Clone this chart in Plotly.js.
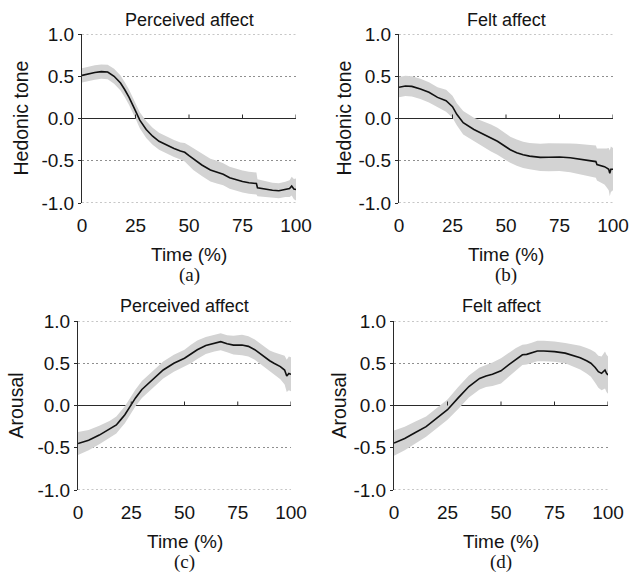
<!DOCTYPE html>
<html>
<head>
<meta charset="utf-8">
<script src="https://cdn.plot.ly/plotly-3.0.1.min.js"></script>
<style>
  html, body { margin: 0; padding: 0; background: #fff; }
  #chart { width: 631px; height: 573px; }
</style>
</head>
<body>
<div id="chart"></div>
<script>
// ---------- data ----------
const panelTitles = ["Perceived affect", "Felt affect", "Perceived affect", "Felt affect"];
const panelLabels = ["(a)", "(b)", "(c)", "(d)"];
const yTitles = ["Hedonic tone", "Hedonic tone", "Arousal", "Arousal"];
const xTitle = "Time (%)";
const xTickVals = [0, 25, 50, 75, 100];
const yTickVals = [-1, -0.5, 0, 0.5, 1];
const yTickText = ["-1.0", "-0.5", "0.0", "0.5", "1.0"];

// (a) Perceived affect – hedonic tone
const timeA = [0, 3, 6, 9, 12, 15, 18, 20, 22, 25, 27, 30, 33, 36, 40, 43, 46, 48, 50, 52, 56, 60, 63, 66, 69, 72, 75, 78, 81.5, 82, 85, 89, 92, 95, 97, 98, 99, 100];
const meanA = [0.51, 0.53, 0.545, 0.555, 0.55, 0.50, 0.42, 0.34, 0.25, 0.09, -0.02, -0.13, -0.21, -0.27, -0.32, -0.355, -0.385, -0.40, -0.44, -0.48, -0.55, -0.61, -0.635, -0.66, -0.70, -0.725, -0.745, -0.76, -0.77, -0.82, -0.835, -0.85, -0.855, -0.84, -0.83, -0.80, -0.835, -0.84];
const sdA = [0.085, 0.085, 0.085, 0.085, 0.085, 0.09, 0.09, 0.09, 0.09, 0.09, 0.095, 0.1, 0.1, 0.1, 0.1, 0.1, 0.1, 0.11, 0.12, 0.13, 0.13, 0.135, 0.135, 0.13, 0.13, 0.13, 0.13, 0.13, 0.13, 0.1, 0.095, 0.09, 0.09, 0.09, 0.1, 0.11, 0.12, 0.13];

// (b) Felt affect – hedonic tone
const timeB = [0, 3, 6, 10, 14, 18, 22, 25, 27, 30, 35, 40, 43, 46, 49, 52, 55, 58, 61, 64, 66, 70, 75, 80, 83, 86, 89, 92, 92.5, 94, 96, 97, 98, 98.5, 99, 100];
const meanB = [0.37, 0.385, 0.38, 0.35, 0.31, 0.25, 0.21, 0.14, 0.05, -0.05, -0.13, -0.19, -0.23, -0.27, -0.32, -0.37, -0.405, -0.43, -0.445, -0.455, -0.46, -0.458, -0.455, -0.465, -0.475, -0.485, -0.50, -0.51, -0.545, -0.555, -0.57, -0.585, -0.60, -0.65, -0.60, -0.60];
const sdB = [0.12, 0.12, 0.12, 0.12, 0.12, 0.12, 0.13, 0.13, 0.13, 0.14, 0.14, 0.15, 0.16, 0.16, 0.16, 0.155, 0.155, 0.155, 0.155, 0.16, 0.16, 0.165, 0.165, 0.17, 0.175, 0.18, 0.185, 0.19, 0.19, 0.2, 0.21, 0.23, 0.25, 0.27, 0.27, 0.25];

// (c) Perceived affect – arousal
const timeC = [0, 5, 10, 15, 18, 20, 22, 25, 27, 30, 35, 40, 45, 50, 53, 56, 60, 64, 67, 70, 73, 77, 80, 83, 87, 90, 92, 95, 97, 98, 99, 100];
const meanC = [-0.45, -0.41, -0.35, -0.28, -0.23, -0.17, -0.11, 0.01, 0.09, 0.19, 0.30, 0.42, 0.50, 0.56, 0.61, 0.66, 0.71, 0.74, 0.755, 0.73, 0.715, 0.716, 0.70, 0.66, 0.58, 0.53, 0.50, 0.46, 0.42, 0.35, 0.38, 0.37];
const sdC = [0.135, 0.12, 0.11, 0.1, 0.1, 0.1, 0.1, 0.1, 0.1, 0.1, 0.1, 0.1, 0.1, 0.1, 0.11, 0.11, 0.1, 0.1, 0.1, 0.1, 0.11, 0.12, 0.12, 0.12, 0.12, 0.12, 0.13, 0.15, 0.17, 0.19, 0.2, 0.2];

// (d) Felt affect – arousal
const timeD = [0, 5, 10, 15, 20, 25, 30, 35, 40, 43, 46, 50, 54, 57, 60, 62, 64, 67, 70, 75, 80, 84, 87, 90, 92, 94, 95.5, 97, 98, 98.6, 99.3, 100];
const meanD = [-0.445, -0.39, -0.32, -0.25, -0.15, -0.05, 0.09, 0.225, 0.32, 0.35, 0.37, 0.41, 0.49, 0.55, 0.60, 0.605, 0.62, 0.645, 0.645, 0.637, 0.62, 0.59, 0.566, 0.53, 0.50, 0.45, 0.40, 0.38, 0.40, 0.42, 0.38, 0.36];
const sdD = [0.15, 0.14, 0.13, 0.12, 0.12, 0.12, 0.13, 0.13, 0.13, 0.13, 0.14, 0.15, 0.14, 0.13, 0.12, 0.12, 0.12, 0.12, 0.12, 0.12, 0.12, 0.13, 0.14, 0.15, 0.16, 0.18, 0.19, 0.2, 0.21, 0.22, 0.22, 0.22];

const series = [
  { t: timeA, m: meanA, s: sdA },
  { t: timeB, m: meanB, s: sdB },
  { t: timeC, m: meanC, s: sdC },
  { t: timeD, m: meanD, s: sdD }
];

// ---------- layout geometry (pixels) ----------
const W = 631, H = 573;
const boxes = [
  { l: 82,  r: 296, t: 34,  b: 203, yt: 20,  ytx: 62 },
  { l: 399, r: 613, t: 34,  b: 203, yt: 20,  ytx: 56 },
  { l: 78,  r: 291, t: 321, b: 490, yt: 306, ytx: 63 },
  { l: 394, r: 608, t: 321, b: 490, yt: 306, ytx: 56 }
];
const FONT = "Liberation Sans, Arial, Helvetica, sans-serif";
const SERIF = "Liberation Serif, Times New Roman, serif";
const TXT = "#141414";
const AX = "#2a2a2a";
const BAND = "rgb(211,211,211)";
const GRID = "#8f8f8f";
const GRIDDASH = "2px,2.5px";

const px2x = p => p / W;
const px2y = p => 1 - p / H;

const traces = [];
const layout = {
  width: W, height: H,
  margin: { l: 0, r: 0, t: 0, b: 0, pad: 0 },
  paper_bgcolor: "#fff", plot_bgcolor: "rgba(0,0,0,0)",
  showlegend: false,
  font: { family: FONT, size: 19, color: TXT },
  annotations: [], shapes: []
};

series.forEach((d, i) => {
  const n = i === 0 ? "" : String(i + 1);
  const xa = "x" + n, ya = "y" + n;
  const lower = d.m.map((v, k) => v - d.s[k]);
  const upper = d.m.map((v, k) => v + d.s[k]);
  traces.push({ x: d.t, y: lower, xaxis: xa, yaxis: ya, mode: "lines",
    line: { width: 0, color: BAND }, hoverinfo: "skip" });
  traces.push({ x: d.t, y: upper, xaxis: xa, yaxis: ya, mode: "lines", fill: "tonexty",
    fillcolor: BAND, line: { width: 0, color: BAND }, hoverinfo: "skip" });
  traces.push({ x: d.t, y: d.m, xaxis: xa, yaxis: ya, mode: "lines",
    line: { width: 1.6, color: "#111" } });

  const b = boxes[i];
  layout["xaxis" + n] = {
    domain: [px2x(b.l), px2x(b.r)], anchor: ya, range: [0, 100],
    tickvals: xTickVals, ticks: "", showline: false, showgrid: false, zeroline: false,
    ticklabelstandoff: 9, tickfont: { family: FONT, size: 19, color: TXT }, fixedrange: true
  };
  layout["yaxis" + n] = {
    domain: [px2y(b.b), px2y(b.t)], anchor: xa, range: [-1, 1],
    tickvals: yTickVals, ticktext: yTickText,
    ticks: "outside", ticklen: 3, tickcolor: AX, tickwidth: 1,
    showline: true, linecolor: AX, linewidth: 1,
    showgrid: true, gridcolor: GRID, griddash: GRIDDASH, gridwidth: 1,
    zeroline: true, zerolinecolor: AX, zerolinewidth: 1,
    tickfont: { family: FONT, size: 19, color: TXT }, fixedrange: true
  };

  // dotted gridlines at the range ends (Plotly skips grid lines on the range edges)
  yTickVals.filter(v => Math.abs(v) === 1).forEach(v => {
    layout.shapes.push({ type: "line", xref: xa + " domain", yref: ya, x0: 0, x1: 1,
      y0: v, y1: v, layer: "below", line: { color: GRID, width: 1, dash: GRIDDASH } });
  });

  // upward tick marks on the zero line
  xTickVals.filter(v => v > 0).forEach(v => {
    layout.shapes.push({ type: "line", xref: xa, yref: ya, x0: v, x1: v,
      ysizemode: "pixel", yanchor: 0, y0: 0, y1: 4, line: { color: AX, width: 1 } });
  });

  const cx = px2x((b.l + b.r) / 2);
  layout.annotations.push({ text: panelTitles[i], xref: "paper", yref: "paper",
    x: cx, y: px2y(b.yt), xanchor: "center", yanchor: "middle", showarrow: false,
    font: { family: FONT, size: 18, color: TXT } });
  layout.annotations.push({ text: yTitles[i], xref: "paper", yref: "paper",
    x: px2x(b.l - b.ytx), y: px2y((b.t + b.b) / 2), xanchor: "center", yanchor: "middle",
    textangle: -90, showarrow: false, font: { family: FONT, size: 19.5, color: TXT } });
  layout.annotations.push({ text: xTitle, xref: "paper", yref: "paper",
    x: cx, y: px2y(b.b + 51), xanchor: "center", yanchor: "middle", showarrow: false,
    font: { family: FONT, size: 19, color: TXT } });
  layout.annotations.push({ text: panelLabels[i], xref: "paper", yref: "paper",
    x: cx, y: px2y(b.b + 72), xanchor: "center", yanchor: "middle", showarrow: false,
    font: { family: SERIF, size: 19, color: TXT } });
});

Plotly.newPlot("chart", traces, layout, { staticPlot: true, displayModeBar: false });
</script>
</body>
</html>
